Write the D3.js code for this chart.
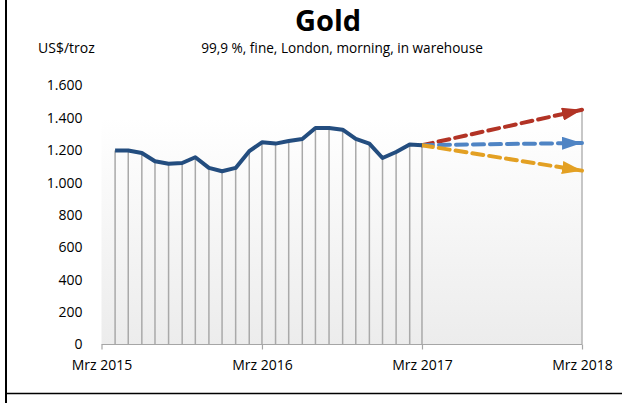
<!DOCTYPE html>
<html>
<head>
<meta charset="utf-8">
<script src="https://cdn.jsdelivr.net/npm/d3@7"></script>
<style>
  body { margin: 0; background: #fff; }
  text { font-family: "Open Sans", "Liberation Sans", sans-serif; }
</style>
</head>
<body>
<div id="chart"></div>
<script>
var svgWidth = 622;
var svgHeight = 403;

// monthly gold price, Apr 2015 .. Mrz 2017
var months = d3.range(24).map(function(i) { return new Date(2015, 3 + i, 1); });
var prices = [1198, 1198, 1183, 1132, 1117, 1121, 1157, 1091, 1070, 1091, 1194, 1249,
              1241, 1257, 1270, 1337, 1337, 1327, 1270, 1241, 1152, 1189, 1235, 1231];

// forecast end values at Mrz 2018
var forecastNames = ["high", "mid", "low"];
var forecastEnd = [1450, 1245, 1074];
var forecastColors = ["#b23325", "#4f84c4", "#e3a023"];

var yTicks = [0, 200, 400, 600, 800, 1000, 1200, 1400, 1600];
var xTicks = [new Date(2015, 2, 1), new Date(2016, 2, 1), new Date(2017, 2, 1), new Date(2018, 2, 1)];
var xTickLabels = ["Mrz 2015", "Mrz 2016", "Mrz 2017", "Mrz 2018"];
var backLevel = 1400;

var margin = { top: 85.5, right: 40, bottom: 58.5, left: 101.5 };
var width = 582 - margin.left;
var height = 344.5 - margin.top;

var svg = d3.select("#chart")
  .append("svg")
  .attr("width", svgWidth)
  .attr("height", svgHeight);

// frame lines
svg.append("line").attr("x1", 6).attr("x2", 6).attr("y1", 0).attr("y2", svgHeight)
  .attr("stroke", "#000").attr("stroke-width", 2);
svg.append("line").attr("x1", 6).attr("x2", svgWidth).attr("y1", 393.5).attr("y2", 393.5)
  .attr("stroke", "#000").attr("stroke-width", 1.5);

var defs = svg.append("defs");
var grad = defs.append("linearGradient")
  .attr("id", "bg")
  .attr("x1", 0).attr("x2", 0).attr("y1", 0).attr("y2", 1);
grad.append("stop").attr("offset", "0%").attr("stop-color", "#ffffff");
grad.append("stop").attr("offset", "100%").attr("stop-color", "#ececec");

forecastColors.forEach(function(c, i) {
  defs.append("marker")
    .attr("id", "arrow" + i)
    .attr("viewBox", "0 0 10 10")
    .attr("preserveAspectRatio", "none")
    .attr("refX", 10)
    .attr("refY", 5)
    .attr("markerWidth", 5)
    .attr("markerHeight", 3.3)
    .attr("markerUnits", "strokeWidth")
    .attr("orient", "auto")
    .append("path")
    .attr("d", "M0,0 L10,5 L0,10 Z")
    .attr("fill", c);
});

var chartGroup = svg.append("g")
  .attr("transform", `translate(${margin.left}, ${margin.top})`);

var xScale = d3.scaleTime()
  .domain([xTicks[0], xTicks[3]])
  .range([0, width]);

var yScale = d3.scaleLinear()
  .domain([0, 1600])
  .range([height, 0]);

// background area
chartGroup.append("rect")
  .attr("x", 0)
  .attr("y", yScale(backLevel))
  .attr("width", width)
  .attr("height", height - yScale(backLevel))
  .attr("fill", "url(#bg)");

// drop lines
chartGroup.selectAll(".drop")
  .data(months)
  .enter()
  .append("line")
  .attr("class", "drop")
  .attr("x1", d => xScale(d))
  .attr("x2", d => xScale(d))
  .attr("y1", (d, i) => yScale(prices[i]))
  .attr("y2", height)
  .attr("stroke", "#a9a9a9")
  .attr("stroke-width", 1.5);

chartGroup.append("line")
  .attr("x1", xScale(xTicks[3]))
  .attr("x2", xScale(xTicks[3]))
  .attr("y1", yScale(forecastEnd[0]))
  .attr("y2", height)
  .attr("stroke", "#b5b5b5")
  .attr("stroke-width", 1.5);

// x axis
var bottomAxis = d3.axisBottom(xScale)
  .tickValues(xTicks)
  .tickSize(5)
  .tickFormat((d, i) => xTickLabels[i]);

var xAxis = chartGroup.append("g")
  .attr("transform", `translate(0, ${height})`)
  .call(bottomAxis);
xAxis.select(".domain").attr("stroke", "#a6a6a6").attr("stroke-width", 1.2).attr("d", `M0,0H${width}`);
xAxis.selectAll(".tick line").attr("stroke", "#a6a6a6").attr("stroke-width", 1.2);
xAxis.selectAll(".tick text")
  .attr("y", 16)
  .attr("font-size", 14)
  .attr("font-family", "Open Sans, sans-serif")
  .attr("fill", "#000");

// y axis labels only
var leftAxis = d3.axisLeft(yScale)
  .tickValues(yTicks)
  .tickSize(0)
  .tickPadding(19)
  .tickFormat(d => d3.format(",")(d).replace(/,/g, "."));
var yAxis = chartGroup.append("g").call(leftAxis);
yAxis.select(".domain").remove();
yAxis.selectAll(".tick text")
  .attr("font-size", 14)
  .attr("font-family", "Open Sans, sans-serif")
  .attr("fill", "#000");

// forecast arrows
var lastDate = months[months.length - 1];
var lastPrice = prices[prices.length - 1];
chartGroup.selectAll(".forecast")
  .data(forecastEnd)
  .enter()
  .append("line")
  .attr("class", "forecast")
  .attr("x1", xScale(lastDate))
  .attr("y1", yScale(lastPrice))
  .attr("x2", xScale(xTicks[3]))
  .attr("y2", d => yScale(d))
  .attr("stroke", (d, i) => forecastColors[i])
  .attr("stroke-width", 4)
  .attr("stroke-dasharray", "11,6")
  .attr("stroke-linecap", "round")
  .attr("marker-end", (d, i) => `url(#arrow${i})`);

// price line
var line = d3.line()
  .x((d, i) => xScale(months[i]))
  .y(d => yScale(d))
  .curve(d3.curveLinear);

chartGroup.append("path")
  .datum(prices)
  .attr("d", line)
  .attr("fill", "none")
  .attr("stroke", "#234d7f")
  .attr("stroke-width", 4)
  .attr("stroke-linejoin", "round");

// titles
svg.append("text")
  .attr("x", 328)
  .attr("y", 31)
  .attr("text-anchor", "middle")
  .attr("font-size", 29)
  .attr("font-weight", "bold")
  .text("Gold");

svg.append("text")
  .attr("x", 38)
  .attr("y", 53)
  .attr("font-size", 14)
  .text("US$/troz");

svg.append("text")
  .attr("x", 342)
  .attr("y", 53)
  .attr("text-anchor", "middle")
  .attr("font-size", 13.6)
  .text("99,9 %, fine, London, morning, in warehouse");
</script>
</body>
</html>
